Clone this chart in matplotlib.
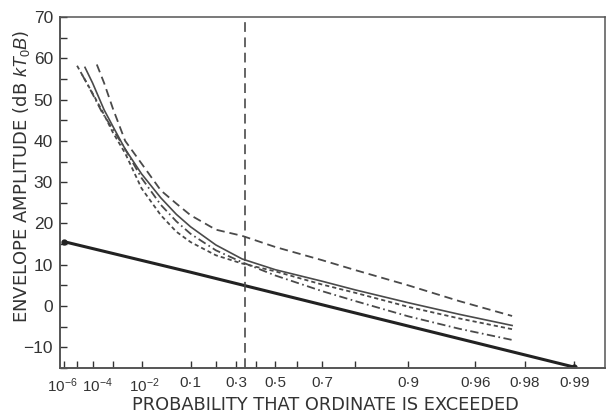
#!/usr/bin/env python3
import numpy as np
import matplotlib
matplotlib.use("Agg")
import matplotlib.pyplot as plt
import matplotlib.transforms as mtransforms

plt.rcParams["font.family"] = ["Liberation Sans", "DejaVu Sans"]
plt.rcParams["lines.scale_dashes"] = False
plt.rcParams["mathtext.fontset"] = "custom"
plt.rcParams["mathtext.rm"] = "Liberation Sans"
plt.rcParams["mathtext.it"] = "Liberation Sans:italic"

# probability grid shared by most of the measured curves
p_grid = [1e-3, 3e-3, 1e-2, 0.03, 0.06, 0.1, 0.2, 0.33, 0.5, 0.7, 0.8, 0.9, 0.95, 0.976]

# long dashed curve
p_long = [1.7e-4, 4e-4] + p_grid
v_long = [58.5, 54.0, 47.8, 40.0, 34.5, 28.0, 24.8, 22.0, 18.5, 17.0, 14.3, 11.1, 8.7, 5.0, 1.2, -2.4]

# thin solid curve
p_solid = [3.5e-5, 1e-4, 4e-4] + p_grid
v_solid = [57.8, 54.0, 47.5, 43.5, 38.0, 32.0, 26.2, 22.2, 19.2, 14.8, 11.4, 8.8, 6.0, 3.9, 0.8, -2.0, -4.7]

# dash-dot curve
p_dashdot = [2.3e-5, 6.2e-5, 3.1e-4] + p_grid
v_dashdot = [56.0, 53.0, 47.0, 42.8, 38.0, 31.0, 24.5, 20.5, 17.5, 13.5, 10.6, 7.4, 3.6, 1.2, -2.5, -5.5, -8.2]

# short dashed curve
p_short = [1.04e-5, 1e-4, 3.1e-4] + p_grid
v_short = [58.2, 51.5, 47.4, 42.0, 37.0, 28.5, 22.0, 18.0, 15.5, 12.3, 10.3, 8.4, 5.2, 3.2, -0.2, -3.0, -5.6]

# thermal noise (Rayleigh) line
p_noise = [1e-6, 0.1, 0.99]
v_noise = [15.6, 8.2, -14.8]

p_marker = 0.345

major_p = [1e-6, 1e-4, 1e-2, 0.1, 0.3, 0.5, 0.7, 0.9, 0.96, 0.98, 0.99]
major_lab = ["10$^{-6}$", "10$^{-4}$", "10$^{-2}$", "0·1", "0·3", "0·5", "0·7",
             "0·9", "0·96", "0·98", "0·99"]
minor_p = [1e-5, 1e-3, 0.2, 0.4, 0.6, 0.8]


def fwd(p):
    p = np.clip(np.asarray(p, dtype=float), 1e-300, 1 - 1e-15)
    return -np.log10(-np.log(p))


def inv(x):
    return np.exp(-np.power(10.0, -np.asarray(x, dtype=float)))


ink = "#333333"
fig = plt.figure(figsize=(6.08, 4.20), dpi=100)
ax = fig.add_axes([60 / 608, 52 / 420, 545 / 608, 351 / 420])
ax.set_xscale("function", functions=(fwd, inv))
ax.set_xlim(4.5e-7, 0.9935)
ax.set_ylim(-15, 70)

lc = "#4a4a4a"
ax.plot(p_long, v_long, color=lc, lw=1.3, dashes=(6, 3.5))
ax.plot(p_solid, v_solid, color=lc, lw=1.2)
ax.plot(p_dashdot, v_dashdot, color=lc, lw=1.3, dashes=(6, 2.5, 1.2, 2.5))
ax.plot(p_short, v_short, color=lc, lw=1.3, dashes=(3, 2.2))
ax.plot(p_noise, v_noise, color="#222222", lw=2.2, solid_capstyle="round")
ax.plot([p_noise[0], p_noise[-1]], [v_noise[0], v_noise[-1]], "o", color="#222222", ms=3.5)
ax.axvline(p_marker, color=lc, lw=1.2, dashes=(7, 4))

ax.set_xticks(major_p)
ax.set_xticklabels(major_lab)
ax.set_xticks(minor_p, minor=True)
ax.set_yticks(np.arange(-10, 71, 10))
ax.set_yticks(np.arange(-15, 71, 5), minor=True)

ax.tick_params(axis="both", which="both", direction="in", colors=ink, width=1.0, length=5)
ax.tick_params(axis="x", labelsize=11, pad=6)
ax.tick_params(axis="y", labelsize=12.5, pad=5)
ax.tick_params(top=False, right=False)
for s in ax.spines.values():
    s.set_color("#555555")
    s.set_linewidth(1.1)
ax.spines["left"].set_linewidth(1.4)
ax.spines["bottom"].set_linewidth(1.4)

# nudge the crowded power-of-ten labels apart (pixels)
nudges = {0: -2, 1: 5, 2: 3}
for i, lab in enumerate(ax.get_xticklabels()):
    if i in nudges:
        off = mtransforms.ScaledTranslation(nudges[i] / 100, 0, fig.dpi_scale_trans)
        lab.set_transform(lab.get_transform() + off)

fig.text(22 / 608, 1 - 176 / 420, "ENVELOPE AMPLITUDE (dB $kT_0B$)", rotation=90,
         ha="center", va="center", fontsize=13, color=ink, family="DejaVu Sans")
fig.text(325 / 608, 1 - 405 / 420, "PROBABILITY THAT ORDINATE IS EXCEEDED",
         ha="center", va="center", fontsize=12.8, color=ink, family="DejaVu Sans")

fig.savefig("out.png", dpi=100)
